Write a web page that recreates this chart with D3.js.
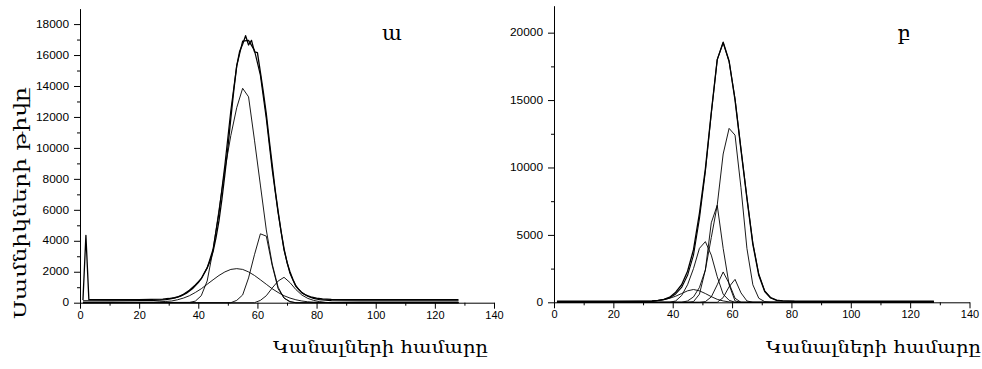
<!DOCTYPE html>
<html>
<head>
<meta charset="utf-8">
<script src="https://cdn.jsdelivr.net/npm/d3@7"></script>
<style>
  body { margin: 0; background: #fff; }
  svg text { font-family: "Liberation Sans", Arial, sans-serif; fill: #000; }
  .title { font-family: "DejaVu Serif", "DejaVu Sans", serif; }
</style>
</head>
<body>
<svg id="chart" width="982" height="369"></svg>
<script>
// ---- tick values ----
const xTicks = [0, 20, 40, 60, 80, 100, 120, 140];
const xMinor = [10, 30, 50, 70, 90, 110, 130];
const leftYTicks = [0, 2000, 4000, 6000, 8000, 10000, 12000, 14000, 16000, 18000];
const leftYMinor = [1000, 3000, 5000, 7000, 9000, 11000, 13000, 15000, 17000];
const rightYTicks = [0, 5000, 10000, 15000, 20000];
const rightYMinor = [2500, 7500, 12500, 17500];

// ---- texts ----
const xTitle = "Կանալների համարը";
const yTitle = "Սամնիկների թիվը";
const panelLetters = ["ա", "բ"];

// ---- left panel (ա): [channel, counts] ----
const leftExp = [[1,180],[2,4350],[3,200],[10,190],[20,195],[28,230],[30,270],[32,320],[34,420],[36,620],[38,900],
  [40,1300],[41,1550],[42,1900],[43,2250],[44,2700],[45,3300],[46,4200],[47,5300],[48,6700],[49,8300],[50,10000],
  [51,11900],[52,13700],[53,15300],[54,16250],[55,16700],[56,17250],[57,16650],[58,16950],[59,16200],[60,16150],
  [61,14900],[62,13600],[63,12200],[64,10500],[65,8900],[66,7300],[67,5900],[68,4600],[69,3500],[70,2600],
  [71,2000],[72,1500],[73,1100],[74,850],[75,650],[76,530],[78,380],[80,290],[82,240],[85,210],[90,200],
  [100,195],[110,195],[120,195],[128,195]];
const leftFit = [[1,120],[11,120],[21,130],[25,150],[27,170],[29,200],[31,260],[33,360],[35,540],[37,800],
  [39,1150],[41,1550],[43,2250],[45,3450],[47,5800],[49,8900],[51,12400],[53,15300],[55,16900],[57,16950],
  [59,16300],[61,14700],[63,11900],[65,8600],[67,5800],[69,3400],[71,1900],[73,1050],[75,650],[77,420],
  [79,280],[81,200],[83,160],[85,140],[95,120],[128,120]];
const leftPeakA = [[1,0],[37,20],[39,100],[41,450],[43,1400],[45,3400],[47,6000],[49,8600],[51,10800],[53,12600],
  [55,13850],[57,13300],[59,10500],[61,7600],[63,4700],[65,2500],[67,1000],[69,300],[71,50],[73,0],[128,0]];
const leftPeakB = [[1,0],[21,20],[25,35],[27,60],[29,80],[31,110],[33,190],[35,300],[37,450],[39,660],[41,900],
  [43,1190],[45,1480],[47,1760],[49,1990],[51,2150],[53,2200],[55,2150],[57,1990],[59,1760],[61,1480],[63,1190],
  [65,900],[67,660],[69,450],[71,300],[73,190],[75,110],[77,60],[79,35],[81,20],[85,5],[128,0]];
const leftPeakC = [[1,0],[51,0],[53,150],[55,500],[57,1600],[59,3100],[61,4450],[63,4300],[65,2400],[67,900],
  [69,300],[71,80],[73,0],[128,0]];
const leftPeakD = [[1,0],[59,0],[61,150],[63,450],[65,950],[67,1400],[69,1640],[71,1300],[73,850],[75,500],
  [77,280],[79,150],[81,70],[83,20],[85,0],[128,0]];

// ---- right panel (բ): [channel, counts] ----
const rightFit = [[1,80],[21,80],[29,90],[33,110],[35,150],[37,220],[39,380],[41,750],[43,1300],[45,2300],
  [47,3900],[49,6600],[51,9900],[53,14100],[55,18000],[57,19300],[59,17900],[61,15000],[63,11300],[65,7700],
  [67,4300],[69,2000],[71,800],[73,320],[75,150],[77,100],[81,80],[128,80]];
const rightExp = [[1,60],[21,60],[29,70],[33,90],[35,130],[37,190],[39,330],[41,620],[43,1100],[45,2000],
  [47,3500],[49,6200],[51,9700],[53,14000],[55,18000],[57,19250],[59,17850],[61,15100],[63,11400],[65,7800],
  [67,4400],[69,2100],[71,850],[73,350],[75,170],[77,110],[81,70],[128,60]];
const rightPeak1 = [[1,0],[43,0],[45,100],[47,400],[49,1100],[51,2400],[53,4800],[55,7200],[57,11000],[59,12900],
  [61,12400],[63,8500],[65,4000],[67,1300],[69,300],[71,50],[73,0],[128,0]];
const rightPeak2 = [[1,0],[45,0],[47,50],[49,600],[51,2400],[53,5900],[55,7200],[57,4000],[59,1300],[61,100],
  [63,0],[128,0]];
const rightPeak3 = [[1,0],[39,0],[41,100],[43,500],[45,1300],[47,2500],[49,4000],[51,4500],[53,3500],[55,1900],
  [57,600],[59,150],[61,0],[128,0]];
const rightPeak4 = [[1,0],[49,0],[51,50],[53,400],[55,1300],[57,2250],[59,1400],[61,300],[63,0],[128,0]];
const rightPeak5 = [[1,0],[55,0],[57,350],[59,1150],[61,1700],[63,700],[65,100],[67,0],[128,0]];
const rightPeak6 = [[1,0],[29,20],[33,60],[35,120],[37,200],[39,300],[41,450],[43,650],[45,850],[47,950],
  [49,850],[51,650],[53,420],[55,220],[57,100],[59,30],[61,0],[128,0]];

const svg = d3.select("#chart");

function stretchLabels(sel, perChar) {
  sel.selectAll(".tick text")
    .attr("textLength", function() { return this.textContent.length * perChar; })
    .attr("lengthAdjust", "spacingAndGlyphs");
}

function drawPanel(p) {
  const x = d3.scaleLinear().domain([0, 140]).range([p.left, p.right]);
  const y = d3.scaleLinear().domain([0, p.yMax]).range([p.bottom, p.top]);
  const g = svg.append("g");

  // minor ticks
  g.append("g").attr("transform", `translate(0,${p.bottom})`)
    .call(d3.axisBottom(x).tickValues(xMinor).tickSize(3).tickFormat(""))
    .call(s => s.select(".domain").remove());
  g.append("g").attr("transform", `translate(${p.left},0)`)
    .call(d3.axisLeft(y).tickValues(p.yMinor).tickSize(3).tickFormat(""))
    .call(s => s.select(".domain").remove());

  // major axes
  const xa = g.append("g").attr("transform", `translate(0,${p.bottom})`)
    .call(d3.axisBottom(x).tickValues(xTicks).tickSize(6).tickSizeOuter(0).tickPadding(3).tickFormat(d3.format("d")));
  const ya = g.append("g").attr("transform", `translate(${p.left},0)`)
    .call(d3.axisLeft(y).tickValues(p.yTicks).tickSize(6).tickSizeOuter(0).tickPadding(5).tickFormat(d3.format("d")));
  [xa, ya].forEach(a => {
    a.selectAll("text").attr("font-size", 10).attr("font-family", "Liberation Sans, Arial, sans-serif");
    a.selectAll("line, path").attr("stroke", "#000");
  });
  stretchLabels(xa, 6.1);
  stretchLabels(ya, 6.6);

  const line = d3.line().x(d => x(d[0])).y(d => y(d[1]));
  p.series.forEach(s => {
    g.append("path")
      .attr("d", line(s.data))
      .attr("fill", "none")
      .attr("stroke", "#000")
      .attr("stroke-width", s.w)
      .attr("stroke-linejoin", "round");
  });

  g.append("text").attr("class", "title")
    .attr("x", p.letterX).attr("y", 40)
    .attr("text-anchor", "middle")
    .attr("font-size", 21)
    .attr("font-family", "DejaVu Serif, serif")
    .text(p.letter);

  g.append("text").attr("class", "title")
    .attr("x", p.titleX).attr("y", 353)
    .attr("font-size", 17)
    .attr("font-family", "DejaVu Serif, serif")
    .attr("textLength", 215).attr("lengthAdjust", "spacingAndGlyphs")
    .text(xTitle);
}

drawPanel({
  left: 80, right: 494, bottom: 302.7, top: 8.6, yMax: 19000,
  yTicks: leftYTicks, yMinor: leftYMinor,
  letter: panelLetters[0], letterX: 392, titleX: 273,
  series: [
    { data: leftPeakB, w: 0.9 }, { data: leftPeakC, w: 0.9 }, { data: leftPeakD, w: 0.9 },
    { data: leftPeakA, w: 0.9 }, { data: leftFit, w: 1.2 }, { data: leftExp, w: 1.3 }
  ]
});

drawPanel({
  left: 554, right: 969.5, bottom: 302.3, top: 5.7, yMax: 22000,
  yTicks: rightYTicks, yMinor: rightYMinor,
  letter: panelLetters[1], letterX: 904, titleX: 766,
  series: [
    { data: rightPeak6, w: 0.9 }, { data: rightPeak5, w: 0.9 }, { data: rightPeak4, w: 0.9 },
    { data: rightPeak3, w: 0.9 }, { data: rightPeak2, w: 0.9 }, { data: rightPeak1, w: 0.9 },
    { data: rightExp, w: 1.1 }, { data: rightFit, w: 1.3 }
  ]
});

// y axis title
svg.append("text").attr("class", "title")
  .attr("transform", "translate(26,203) rotate(-90)")
  .attr("text-anchor", "middle")
  .attr("font-size", 17)
  .attr("font-family", "DejaVu Serif, serif")
  .attr("textLength", 232).attr("lengthAdjust", "spacingAndGlyphs")
  .text(yTitle);
</script>
</body>
</html>
